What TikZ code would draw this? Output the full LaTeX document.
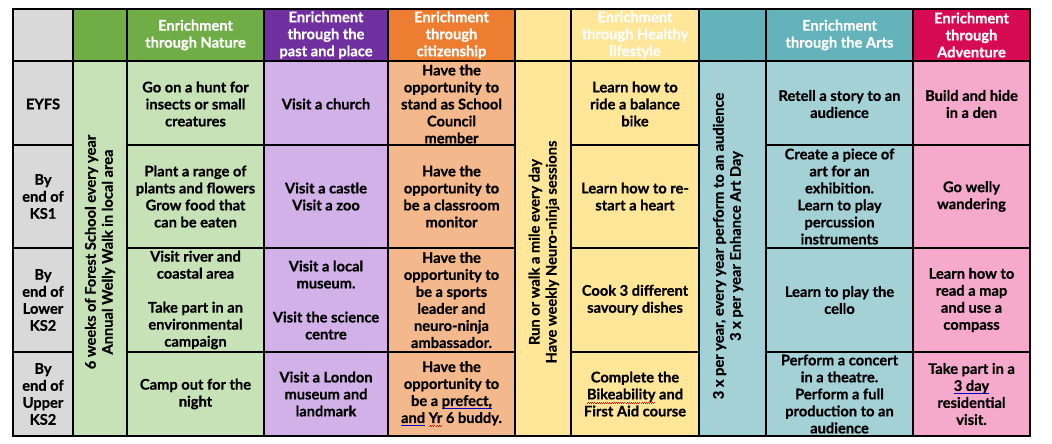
\documentclass[tikz,border=0pt]{standalone}
\usepackage{fontspec}
\setmainfont{Lato}[BoldFeatures={FakeBold=0.6}]
\newsavebox\ulbox
\newcommand\bluline[1]{\sbox\ulbox{#1}\rlap{\textcolor{blue!75!black}{\rule[-2.4pt]{\wd\ulbox}{0.8pt}}}\usebox\ulbox}
\newcommand\redwave[1]{\sbox\ulbox{#1}\rlap{\color{red}\hbox to \wd\ulbox{\xleaders\hbox{\rule[-3pt]{0.8pt}{0.5pt}\rule[-2.4pt]{0.8pt}{0.5pt}}\hfill}}\usebox\ulbox}
\definecolor{cgrey}{HTML}{D9D9D9}
\definecolor{cgreenD}{HTML}{70AD47}
\definecolor{cgreenL}{HTML}{C8E2B8}
\definecolor{cpurpD}{HTML}{7030A0}
\definecolor{cpurpL}{HTML}{D1B1E8}
\definecolor{corD}{HTML}{ED7D31}
\definecolor{corL}{HTML}{F4B88D}
\definecolor{cyel}{HTML}{FFE699}
\definecolor{ctealD}{HTML}{64B3BB}
\definecolor{ctealL}{HTML}{A3D1D6}
\definecolor{ccrimD}{HTML}{D60B52}
\definecolor{cpink}{HTML}{F5A9CB}
\tikzset{
  cell/.style={align=center, inner sep=0pt, font=\bfseries\fontsize{11}{12.75}\selectfont},
  head/.style={cell, text=white},
  vert/.style={cell, rotate=90},
  grid/.style={draw=black, line width=0.9pt}
}
\begin{document}
\begin{tikzpicture}[x=0.75pt,y=-0.75pt]
\useasboundingbox (0,0) rectangle (1052,443);
\fill[white] (0,0) rectangle (1052,443);
% column boundaries: 13,73,127,264,388,515,571,699,766,913,1030
% row boundaries: 9,61,145,248,352,436
% header fills
\fill[cgrey] (13,9) rectangle (73,61);
\fill[cgreenD] (73,9) rectangle (264,61);
\fill[cpurpD] (264,9) rectangle (388,61);
\fill[corD] (388,9) rectangle (515,61);
\fill[cyel] (515,9) rectangle (699,61);
\fill[ctealD] (699,9) rectangle (913,61);
\fill[ccrimD] (913,9) rectangle (1030,61);
% body fills
\fill[cgrey] (13,61) rectangle (73,436);
\fill[cgreenL] (73,61) rectangle (264,436);
\fill[cpurpL] (264,61) rectangle (388,436);
\fill[corL] (388,61) rectangle (515,436);
\fill[cyel] (515,61) rectangle (699,436);
\fill[ctealL] (699,61) rectangle (913,436);
\fill[cpink] (913,61) rectangle (1030,436);
% grid
\draw[grid] (13,9) rectangle (1030,436);
\foreach \x in {73,127,264,388,515,571,699,766,913}
  \draw[grid] (\x,9) -- (\x,436);
\draw[grid] (13,61) -- (1030,61);
\foreach \y in {145,248,352}{
  \draw[grid] (13,\y) -- (73,\y);
  \draw[grid] (127,\y) -- (515,\y);
  \draw[grid] (571,\y) -- (699,\y);
  \draw[grid] (766,\y) -- (1030,\y);
}
% header texts
\node[head] (hnat) at (195.5,35) {Enrichment\\through Nature};
\node[head] (hpast) at (326,35) {Enrichment\\through the\\past and place};
\node[head] (hcit) at (451.5,35) {Enrichment\\through\\citizenship};
\node[head] (hhea) at (635,35) {Enrichment\\through Healthy\\lifestyle};
\node[head] (harts) at (839.5,35) {Enrichment\\through the Arts};
\node[head] (hadv) at (971.5,35) {Enrichment\\through\\Adventure};
% row labels
\node[cell] (r1) at (43,104) {EYFS};
\node[cell] (r2) at (43,196.5) {By\\end of\\KS1};
\node[cell] (r3) at (43,300) {By\\end of\\Lower\\KS2};
\node[cell] (r4) at (43,394) {By\\end of\\Upper\\KS2};
% vertical texts
\node[vert] (vforest) at (100,252) {6 weeks of Forest School every year\\Annual Welly Walk in local area};
\node[vert] (vrun) at (544,252) {Run or walk a mile every day\\Have weekly Neuro-ninja sessions};
\node[vert] (vperf) at (728,246) {3 x per year, every year perform to an audience\\3 x per year Enhance Art Day};
% Nature
\node[cell] (n1) at (195.5,104) {Go on a hunt for\\insects or small\\creatures};
\node[cell] (n2) at (195.5,196.5) {Plant a range of\\plants and flowers\\Grow food that\\can be eaten};
\node[cell] (n3) at (195.5,300) {Visit river and\\coastal area\\[12.75pt]Take part in an\\environmental\\campaign};
\node[cell] (n4) at (195.5,394) {Camp out for the\\night};
% Past and place
\node[cell] (p1) at (326,104) {Visit a church};
\node[cell] (p2) at (326,196.5) {Visit a castle\\Visit a zoo};
\node[cell] (p3) at (326,300) {Visit a local\\museum.\\[12.75pt]Visit the science\\centre};
\node[cell] (p4) at (326,394) {Visit a London\\museum and\\landmark};
% Citizenship
\node[cell] (c1) at (451.5,104) {Have the\\opportunity to\\stand as School\\Council\\member};
\node[cell] (c2) at (451.5,196.5) {Have the\\opportunity to\\be a classroom\\monitor};
\node[cell] (c3) at (451.5,300) {Have the\\opportunity to\\be a sports\\leader and\\neuro-ninja\\ambassador.};
\node[cell] (c4) at (451.5,394) {Have the\\opportunity to\\be a \bluline{prefect,}\\\bluline{and} \redwave{Yr} 6 buddy.};
% Healthy
\node[cell] (h1) at (635,104) {Learn how to\\ride a balance\\bike};
\node[cell] (h2) at (635,196.5) {Learn how to re-\\start a heart};
\node[cell] (h3) at (635,300) {Cook 3 different\\savoury dishes};
\node[cell] (h4) at (635,394) {Complete the\\\redwave{Bikeability} and\\First Aid course};
% Arts
\node[cell] (a1) at (839.5,104) {Retell a story to an\\audience};
\node[cell] (a2) at (839.5,196.5) {Create a piece of\\art for an\\exhibition.\\Learn to play\\percussion\\instruments};
\node[cell] (a3) at (839.5,300) {Learn to play the\\cello};
\node[cell] (a4) at (839.5,394) {Perform a concert\\in a theatre.\\Perform a full\\production to an\\audience};
% Adventure
\node[cell] (d1) at (971.5,104) {Build and hide\\in a den};
\node[cell] (d2) at (971.5,196.5) {Go welly\\wandering};
\node[cell] (d3) at (971.5,300) {Learn how to\\read a map\\and use a\\compass};
\node[cell] (d4) at (971.5,394) {Take part in a\\\bluline{3 day}\\residential\\visit.};
\end{tikzpicture}
\end{document}
